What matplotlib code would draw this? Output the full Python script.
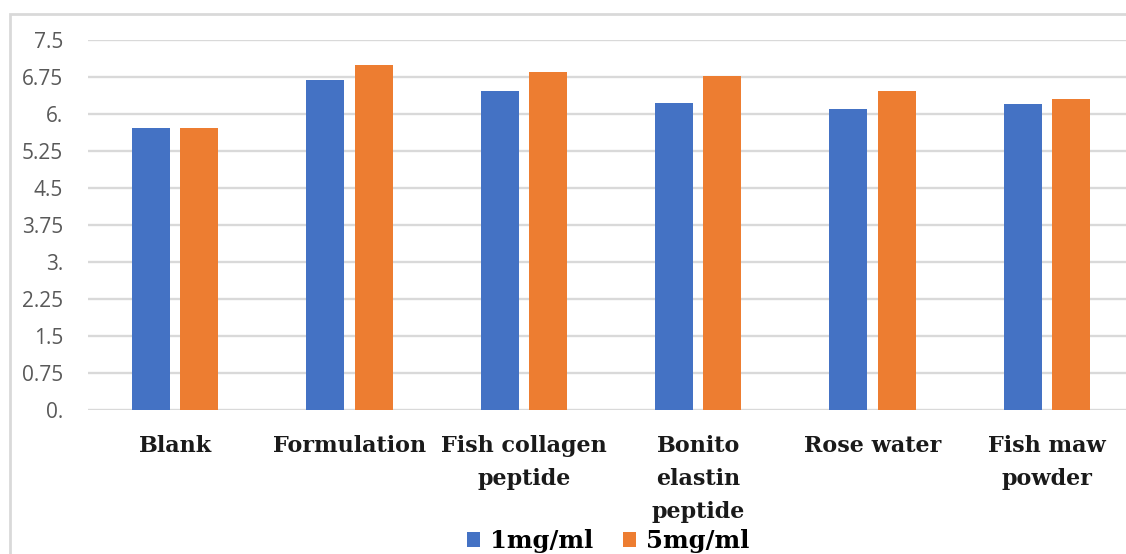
import matplotlib.pyplot as plt
import numpy as np
from matplotlib.patches import Rectangle

categories = ['Blank', 'Formulation', 'Fish collagen\npeptide', 'Bonito\nelastin\npeptide',
              'Rose water', 'Fish maw\npowder']
vals_1 = [5.72, 6.69, 6.46, 6.22, 6.11, 6.21]
vals_5 = [5.72, 6.99, 6.85, 6.77, 6.46, 6.30]
series = ['1mg/ml', '5mg/ml']
yticks = [0, 0.75, 1.5, 2.25, 3, 3.75, 4.5, 5.25, 6, 6.75, 7.5]
ytick_labels = ['0.', '0.75', '1.5', '2.25', '3.', '3.75', '4.5', '5.25', '6.', '6.75', '7.5']

blue = '#4472C4'
orange = '#ED7D31'

fig = plt.figure(figsize=(11.26, 5.54), dpi=100)
# outer chart border (cut off on right/bottom like the screenshot)
fig.patches.append(Rectangle((10/1126, -0.1), 1.2, 1 - 14/554 + 0.1, transform=fig.transFigure,
                             fill=False, edgecolor='#d9d9d9', linewidth=2))

# axes: x from 88 px to ~1134 px, y from 410 px (0) to 40 px (7.5)
ax = fig.add_axes([88/1126, (554-410)/554, 1046/1126, 370/554])

x = np.arange(len(categories))
w = 0.218
off = 0.139
ax.bar(x - off, vals_1, w, color=blue, label=series[0], zorder=3)
ax.bar(x + off, vals_5, w, color=orange, label=series[1], zorder=3)

ax.set_xlim(-0.5, len(categories) - 0.5)
ax.set_ylim(0, 7.5)
ax.set_yticks(yticks)
ax.set_yticklabels(ytick_labels, fontfamily='Open Sans', fontsize=15, color='#595959')
ax.set_xticks(x)
ax.set_xticklabels(categories, fontfamily='DejaVu Serif', fontweight='bold', fontsize=16,
                   color='#1a1a1a', linespacing=1.65, va='top')
ax.tick_params(axis='both', length=0)
ax.tick_params(axis='y', pad=18)
ax.tick_params(axis='x', pad=18)

ax.yaxis.grid(True, color='#d9d9d9', linewidth=1.7, zorder=0)
ax.set_axisbelow(True)
for s in ax.spines.values():
    s.set_visible(False)

leg = fig.legend(loc='center', bbox_to_anchor=(608/1126, 1 - 541/554), ncol=2, frameon=False,
                 prop={'family': 'DejaVu Serif', 'weight': 'bold', 'size': 17.5},
                 handlelength=0.55, handleheight=0.55, handletextpad=0.4, columnspacing=1.2)

plt.savefig('out.png', dpi=100)
